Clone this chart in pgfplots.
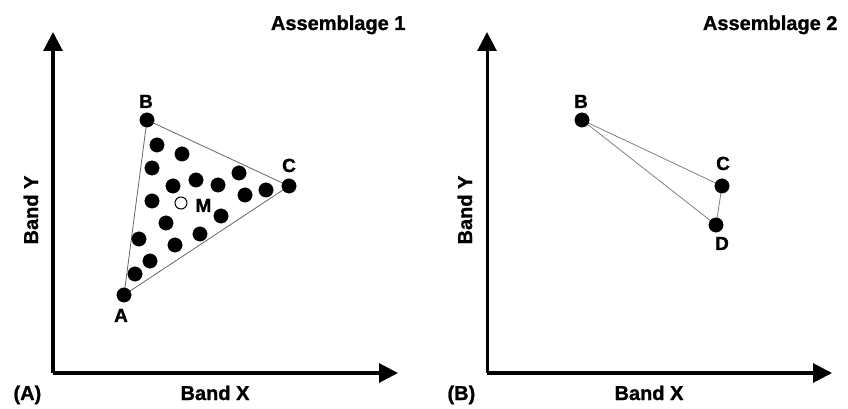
\documentclass[border=0pt]{standalone}
\usepackage{fontspec}
\setmainfont{Liberation Sans}[BoldFeatures={FakeBold=1.2}]
\usepackage{pgfplots}
\pgfplotsset{compat=1.18}
\usetikzlibrary{arrows.meta}
\tikzset{lbl/.style={font=\bfseries\fontsize{19bp}{22bp}\selectfont, anchor=base}}
\pgfplotsset{panel/.style={
  scale only axis, width=345bp, height=341bp,
  xmin=0, xmax=345, ymin=0, ymax=341,
  axis lines=left,
  axis line style={line width=3bp, -{Triangle[length=19bp,width=19bp]}},
  xtick=\empty, ytick=\empty, clip=false, anchor=origin,
}}
\begin{document}
\begin{tikzpicture}[font=\bfseries\fontsize{20bp}{24bp}\selectfont]
\useasboundingbox (0,0) rectangle (848bp,409bp);
% ---------- Panel A ----------
\begin{axis}[panel, at={(53bp,36bp)}]
\addplot[gray!80!black, line width=0.8bp] coordinates {(71,78) (94,253) (236,187) (71,78)};
\addplot[only marks, mark=*, mark size=7.2bp, mark options={fill=black, draw=black}] coordinates {
 (71,78) (94,253) (236,187)
 (104,228) (129,219) (99,205) (120,187) (143,193) (165,188) (186,200) (192,178) (213,183)
 (99,172) (168,157) (113,150) (147,139) (86,134) (122,128) (97,112) (82,99)};
\addplot[only marks, mark=*, mark size=6bp, mark options={fill=white, draw=black, line width=1bp}] coordinates {(128,170)};
\node[lbl] at (axis cs:93,265) {B};
\node[lbl] at (axis cs:68,51) {A};
\node[lbl] at (axis cs:236,201) {C};
\node[lbl, anchor=base west] at (axis cs:139,161) {M};
\node[anchor=base east] at (axis cs:356,343) {Assemblage 1};
\node[anchor=base] at (axis cs:162,-27) {Band X};
\node[anchor=base, rotate=90] at (axis cs:-15,163) {Band Y};
\node[anchor=base west] at (axis cs:-43,-27) {(A)};
\end{axis}
% ---------- Panel B ----------
\begin{axis}[panel, at={(487bp,36bp)}]
\addplot[gray, line width=0.8bp] coordinates {(95,253) (235,187) (229,148) (95,253)};
\addplot[only marks, mark=*, mark size=7.2bp, mark options={fill=black, draw=black}] coordinates {
 (95,253) (235,187) (229,148)};
\node[lbl] at (axis cs:94,265) {B};
\node[lbl] at (axis cs:236,203) {C};
\node[lbl] at (axis cs:235,123) {D};
\node[anchor=base east] at (axis cs:354,343) {Assemblage 2};
\node[anchor=base] at (axis cs:162,-27) {Band X};
\node[anchor=base, rotate=90] at (axis cs:-15,163) {Band Y};
\node[anchor=base west] at (axis cs:-43,-27) {(B)};
\end{axis}
\end{tikzpicture}
\end{document}
